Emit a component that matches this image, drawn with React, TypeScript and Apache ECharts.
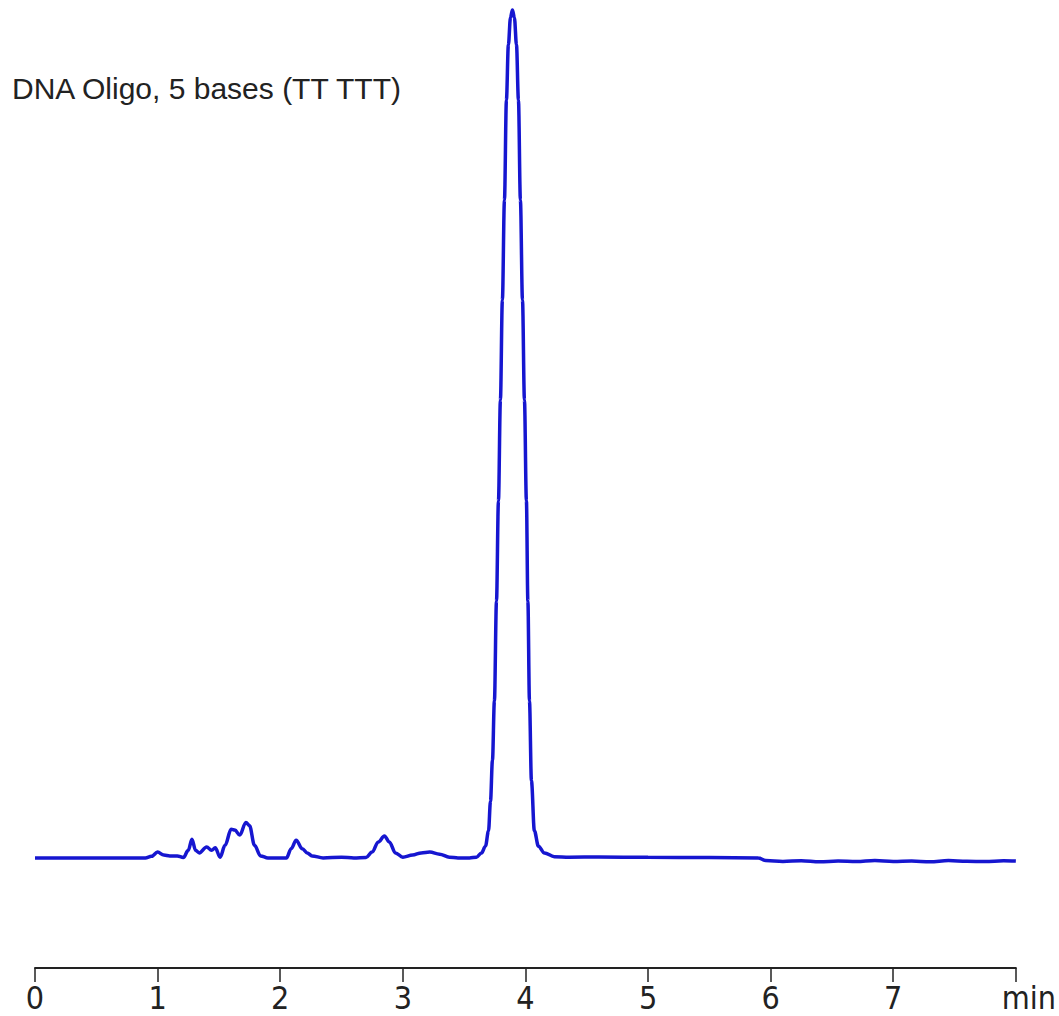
import React, { useEffect, useRef } from "react";
import * as echarts from "echarts";

const titleText = "DNA Oligo, 5 bases (TT TTT)";
const xTicks = [0, 1, 2, 3, 4, 5, 6, 7, 8];
const unitLabel = "min";

// retention time (min)
const times = [
  0, 0.5, 0.9, 0.95, 1.0, 1.05, 1.1, 1.16, 1.21, 1.25, 1.28, 1.31, 1.34, 1.4, 1.44, 1.47,
  1.51, 1.55, 1.6, 1.63, 1.67, 1.72, 1.75, 1.79, 1.84, 1.9, 2.05, 2.09, 2.13, 2.18, 2.22,
  2.26, 2.35, 2.5, 2.6, 2.7, 2.75, 2.8, 2.85, 2.89, 2.94, 3.0, 3.08, 3.15, 3.22, 3.3, 3.38,
  3.45, 3.544, 3.601, 3.642, 3.674, 3.699, 3.715, 3.731, 3.747, 3.764, 3.78, 3.796, 3.812,
  3.829, 3.845, 3.861, 3.878, 3.894, 3.91, 3.927, 3.943, 3.959, 3.976, 3.992, 4.008, 4.02,
  4.033, 4.049, 4.073, 4.106, 4.155, 4.236, 4.358, 4.6, 5.0, 5.5, 5.9, 5.96, 6.1, 6.25,
  6.4, 6.55, 6.7, 6.85, 7.0, 7.15, 7.3, 7.45, 7.6, 7.75, 7.9, 8.0,
];

// detector response (relative, main peak = 100)
const signal = [
  0, 0, 0, 0.2, 0.7, 0.35, 0.25, 0.25, 0.05, 0.9, 2.2, 0.9, 0.6, 1.3, 0.9, 1.2,
  0.1, 1.5, 3.4, 3.3, 2.7, 4.2, 3.8, 1.5, 0.25, 0, 0, 1.1, 2.1, 1.1, 0.6,
  0.25, 0, 0.1, 0, 0.05, 0.7, 1.9, 2.6, 1.9, 0.6, 0.1, 0.35, 0.6, 0.7, 0.45, 0.1,
  0, 0, 0.1, 0.6, 1.4, 3.2, 6.7, 11.5, 18.5, 30.3, 42.1, 54.0, 65.8,
  77.6, 89.4, 95.9, 99.1, 100, 99.1, 95.9, 89.4, 77.6, 65.8, 54.0, 42.1, 30.3,
  18.5, 9.1, 3.2, 1.4, 0.6, 0.15, 0.1, 0.12, 0.08, 0.05, 0.0, -0.3, -0.4, -0.32,
  -0.45, -0.35, -0.42, -0.3, -0.4, -0.35, -0.45, -0.3, -0.38, -0.42, -0.32, -0.36,
];

const labelFont = "'Liberation Sans Narrow', 'DejaVu Sans Condensed', 'Arial Narrow', sans-serif";

export default function App() {
  const ref = useRef<HTMLDivElement>(null);

  useEffect(() => {
    if (!ref.current) return;
    const chart = echarts.init(ref.current, undefined, { renderer: "svg" });
    const data = times.map((t, i) => [t, signal[i]]);
    chart.setOption({
      animation: false,
      backgroundColor: "#ffffff",
      title: {
        text: titleText,
        left: 12,
        top: 73,
        padding: 0,
        textStyle: {
          fontFamily: "'Liberation Sans', Arial, sans-serif",
          fontSize: 30,
          fontWeight: "normal",
          color: "#222222",
        },
      },
      grid: { left: 35, right: 42, top: 10, bottom: 158 },
      xAxis: {
        type: "value",
        min: 0,
        max: 8,
        interval: 1,
        offset: 110,
        splitLine: { show: false },
        axisLine: { show: true, onZero: false, lineStyle: { color: "#222222", width: 2 } },
        axisTick: { show: true, inside: false, length: 14, lineStyle: { color: "#222222", width: 1.5 } },
        axisLabel: {
          margin: 14,
          fontFamily: labelFont,
          fontSize: 32,
          color: "#222222",
          formatter: (v: number) => (v === 8 ? "{m|" + unitLabel + "}" : String(xTicks[Math.round(v)])),
          rich: {
            m: {
              fontFamily: labelFont,
              fontSize: 32,
              color: "#222222",
              padding: [0, 0, 0, 26],
            },
          },
        },
      },
      yAxis: {
        type: "value",
        min: 0,
        max: 100,
        show: false,
        splitLine: { show: false },
      },
      series: [
        {
          type: "line",
          data,
          clip: false,
          showSymbol: false,
          symbol: "none",
          smooth: 0.35,
          smoothMonotone: "x",
          lineStyle: { color: "#1616d0", width: 3.5 },
        },
      ],
    });
    return () => chart.dispose();
  }, []);

  return (
    <div
      ref={ref}
      style={{ position: "fixed", left: 0, top: 0, width: 1059, height: 1016 }}
    />
  );
}
